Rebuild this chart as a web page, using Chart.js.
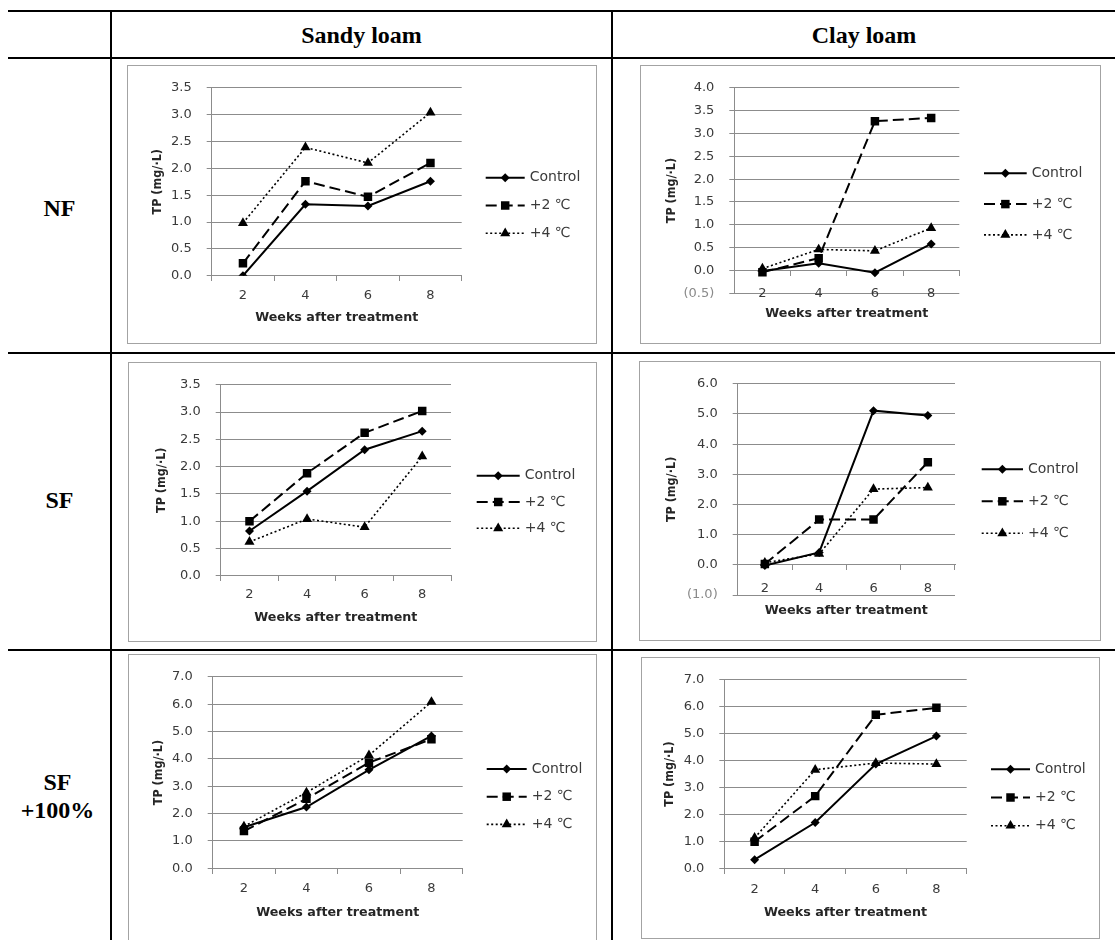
<!DOCTYPE html>
<html lang="en">
<head>
    <meta charset="UTF-8">
    <title>TP after treatment by soil and fertilizer</title>
    <script src="https://cdn.jsdelivr.net/npm/chart.js"></script>
    <style>
        body {
            margin: 0;
            padding: 0;
            width: 1115px;
            height: 940px;
            overflow: hidden;
            position: relative;
            background: #fff;
        }
        .rule { position: absolute; background: #000; }
        .frame { position: absolute; border: 1px solid #a3a3a3; box-sizing: border-box; }
        canvas { position: absolute; }
        .head {
            position: absolute;
            font-family: 'Liberation Serif', 'Times New Roman', serif;
            font-weight: bold;
            font-size: 24px;
            line-height: 28px;
            text-align: center;
            color: #000;
        }
    </style>
</head>
<body>
    <!-- table rules -->
    <div class="rule" style="left:8px;top:10px;width:1107px;height:2px"></div>
    <div class="rule" style="left:8px;top:57px;width:1107px;height:2px"></div>
    <div class="rule" style="left:8px;top:352px;width:1107px;height:2px"></div>
    <div class="rule" style="left:8px;top:649px;width:1107px;height:2px"></div>
    <div class="rule" style="left:110px;top:10px;width:2px;height:930px"></div>
    <div class="rule" style="left:611px;top:10px;width:2px;height:930px"></div>

    <div class="head" style="left:112px;top:21px;width:499px">Sandy loam</div>
    <div class="head" style="left:613px;top:21px;width:502px">Clay loam</div>
    <div class="head" style="left:8px;top:194px;width:103px">NF</div>
    <div class="head" style="left:8px;top:486px;width:103px">SF</div>
    <div class="head" style="left:6px;top:768px;width:103px">SF<br>+100%</div>

    <script>
        Chart.defaults.font.family = "'DejaVu Sans', Verdana, sans-serif";
        Chart.defaults.animation = false;

        const weeks = ['2', '4', '6', '8'];
        const seriesNames = ['Control', '+2 ℃', '+4 ℃'];

        // NF
        const nfSandyControl = [0.00, 1.33, 1.30, 1.76];
        const nfSandyPlus2 = [0.23, 1.76, 1.47, 2.10];
        const nfSandyPlus4 = [0.98, 2.39, 2.10, 3.04];
        const nfClayControl = [-0.01, 0.16, -0.05, 0.58];
        const nfClayPlus2 = [-0.04, 0.27, 3.27, 3.34];
        const nfClayPlus4 = [0.04, 0.46, 0.43, 0.93];

        // SF
        const sfSandyControl = [0.82, 1.55, 2.31, 2.65];
        const sfSandyPlus2 = [1.00, 1.88, 2.62, 3.02];
        const sfSandyPlus4 = [0.62, 1.04, 0.89, 2.19];
        const sfClayControl = [-0.02, 0.41, 5.11, 4.95];
        const sfClayPlus2 = [0.03, 1.50, 1.50, 3.40];
        const sfClayPlus4 = [0.07, 0.36, 2.51, 2.56];

        // SF +100%
        const sf100SandyControl = [1.50, 2.24, 3.60, 4.84];
        const sf100SandyPlus2 = [1.36, 2.54, 3.86, 4.72];
        const sf100SandyPlus4 = [1.53, 2.77, 4.13, 6.08];
        const sf100ClayControl = [0.32, 1.70, 3.87, 4.91];
        const sf100ClayPlus2 = [0.99, 2.68, 5.70, 5.96];
        const sf100ClayPlus4 = [1.13, 3.66, 3.91, 3.87];

        // y axis ranges [min, max, step]
        const rangeNfSandy = [0, 3.5, 0.5];
        const rangeNfClay = [-0.5, 4, 0.5];
        const rangeSfSandy = [0, 3.5, 0.5];
        const rangeSfClay = [-1, 6, 1];
        const rangeSf100Sandy = [0, 7, 1];
        const rangeSf100Clay = [0, 7, 1];

        const gridGray = '#8c8c8c';
        const textGray = '#3a3a3a';

        const lineStyles = [
            { borderDash: [], borderWidth: 2, pointStyle: 'rectRot', pointRadius: 4.5 },
            { borderDash: [11, 5], borderWidth: 2, pointStyle: 'rect', pointRadius: 6 },
            { borderDash: [2, 2.5], borderWidth: 1.6, pointStyle: 'triangle', pointRadius: 5.8 }
        ];

        // layout of each panel: frame box, plot area, label offsets, legend spot (page px)
        const panels = [
            { series: [nfSandyControl, nfSandyPlus2, nfSandyPlus4], range: rangeNfSandy,
              box: [127, 65, 470, 279], plot: [211.7, 81.7, 461.7, 275.7],
              lab: 20.3, ttl: 42.3, yTitleX: 158, legend: [485.7, 39, 177.7, 27.8] },
            { series: [nfClayControl, nfClayPlus2, nfClayPlus4], range: rangeNfClay,
              box: [640, 65, 461, 279], plot: [734.3, 83.3, 959.3, 293.3],
              lab: 22.7, ttl: 43.3, yTitleX: 671.7, legend: [984, 42.7, 173.3, 30.8] },
            { series: [sfSandyControl, sfSandyPlus2, sfSandyPlus4], range: rangeSfSandy,
              box: [128, 362, 469, 280], plot: [220.7, 377.7, 451, 575.7],
              lab: 19.3, ttl: 41.6, yTitleX: 161.7, legend: [476.7, 43, 475.7, 26.3] },
            { series: [sfClayControl, sfClayPlus2, sfClayPlus4], range: rangeSfClay,
              box: [639, 361, 462, 280], plot: [737.7, 380, 955, 595],
              lab: 24, ttl: 45.7, yTitleX: 671.7, legend: [981.7, 41.3, 469.3, 32] },
            { series: [sf100SandyControl, sf100SandyPlus2, sf100SandyPlus4], range: rangeSf100Sandy,
              box: [128, 654, 469, 300], plot: [212.7, 670.7, 462.7, 868.3],
              lab: 20, ttl: 44, yTitleX: 158.3, legend: [486.7, 40, 769, 27.7] },
            { series: [sf100ClayControl, sf100ClayPlus2, sf100ClayPlus4], range: rangeSf100Clay,
              box: [641, 657, 459, 282], plot: [724.3, 672.7, 966.7, 868.3],
              lab: 21, ttl: 44, yTitleX: 670, legend: [991, 39, 769.3, 28.2] }
        ];

        // Excel-like legend on the right: line sample with marker, then name
        const sideLegend = {
            id: 'sideLegend',
            afterDraw(chart, args, opts) {
                const ctx = chart.ctx;
                ctx.save();
                chart.data.datasets.forEach((ds, i) => {
                    const y = opts.y + i * opts.gap;
                    ctx.strokeStyle = '#000';
                    ctx.lineWidth = ds.borderWidth;
                    ctx.setLineDash(ds.borderDash);
                    ctx.beginPath();
                    ctx.moveTo(opts.x, y);
                    ctx.lineTo(opts.x + opts.len, y);
                    ctx.stroke();
                    ctx.setLineDash([]);
                    ctx.fillStyle = '#000';
                    Chart.helpers.drawPoint(ctx, {
                        pointStyle: ds.pointStyle, radius: ds.pointRadius, rotation: 0, borderWidth: 0
                    }, opts.x + opts.len / 2, y);
                    ctx.fillStyle = textGray;
                    ctx.font = "14px 'DejaVu Sans'";
                    ctx.textAlign = 'left';
                    ctx.textBaseline = 'middle';
                    ctx.fillText(ds.label, opts.x + opts.len + 5, y);
                });
                ctx.restore();
            }
        };

        function fmt(v) {
            return v < 0 ? '(' + Math.abs(v).toFixed(1) + ')' : v.toFixed(1);
        }

        function makeChart(p) {
            const [bx, by, bw, bh] = p.box;
            const [pl, pt, pr, pb] = p.plot;

            const frame = document.createElement('div');
            frame.className = 'frame';
            frame.style.cssText = `left:${bx}px;top:${by}px;width:${bw}px;height:${bh}px`;
            document.body.appendChild(frame);

            const cv = document.createElement('canvas');
            cv.width = bw;
            cv.height = bh;
            cv.style.left = bx + 'px';
            cv.style.top = by + 'px';
            document.body.appendChild(cv);

            const yTitleSize = 12.5;
            const yWidth = pl - p.yTitleX + yTitleSize * 0.6;
            const xHeight = by + bh - pb;
            const tickFont = 13;
            const xTitleFont = 12.7;

            const chart = new Chart(cv.getContext('2d'), {
                type: 'line',
                data: {
                    labels: weeks,
                    datasets: p.series.map((vals, i) => ({
                        label: seriesNames[i],
                        data: vals,
                        borderColor: '#000',
                        backgroundColor: '#000',
                        pointBackgroundColor: '#000',
                        pointBorderColor: '#000',
                        pointBorderWidth: 0,
                        tension: 0,
                        ...lineStyles[i]
                    }))
                },
                options: {
                    responsive: false,
                    animation: false,
                    layout: {
                        padding: { left: pl - bx - yWidth, top: pt - by, right: bx + bw - pr, bottom: xHeight }
                    },
                    plugins: {
                        legend: { display: false },
                        tooltip: { enabled: false },
                        sideLegend: {
                            x: p.legend[0] - bx, len: p.legend[1], y: p.legend[2] - by, gap: p.legend[3]
                        }
                    },
                    scales: {
                        x: {
                            type: 'category',
                            position: { y: 0 },
                            offset: true,
                            afterFit: s => { s.height = xHeight; },
                            grid: { display: true, drawOnChartArea: false, drawTicks: true, tickLength: 5, offset: true, color: gridGray },
                            border: { display: true, color: gridGray, width: 1 },
                            ticks: { color: textGray, font: { size: tickFont }, padding: p.lab - 5 - tickFont * 0.6 },
                            title: {
                                display: true,
                                text: 'Weeks after treatment',
                                color: '#262626',
                                font: { size: xTitleFont, weight: 'bold' },
                                padding: { top: 0, bottom: xHeight - p.ttl - xTitleFont * 0.6 }
                            }
                        },
                        y: {
                            min: p.range[0],
                            max: p.range[1],
                            afterFit: s => { s.width = yWidth; },
                            grid: { color: gridGray, tickLength: 5, drawTicks: true },
                            border: { display: true, color: gridGray, width: 1 },
                            ticks: {
                                stepSize: p.range[2],
                                padding: 15,
                                font: { size: tickFont },
                                color: c => c.tick.value < 0 ? '#8a8a8a' : textGray,
                                callback: v => fmt(v)
                            },
                            title: {
                                display: true,
                                text: 'TP (mg/·L)',
                                color: '#262626',
                                font: { family: "'DejaVu Sans Condensed', 'DejaVu Sans', sans-serif", size: yTitleSize, weight: 'bold' },
                                padding: { top: 0, bottom: 0 }
                            }
                        }
                    }
                },
                plugins: [sideLegend]
            });

            // nudge the layout padding until the plot area sits where the reference has it
            for (let k = 0; k < 3; k++) {
                const ca = chart.chartArea;
                const pad = chart.config.options.layout.padding;
                chart.config.options.layout.padding = {
                    left: pad.left + (pl - bx) - ca.left,
                    top: pad.top + (pt - by) - ca.top,
                    right: pad.right + ca.right - (pr - bx),
                    bottom: pad.bottom + ca.bottom - (pb - by)
                };
                chart.update();
            }
        }

        panels.forEach(makeChart);
    </script>
</body>
</html>
